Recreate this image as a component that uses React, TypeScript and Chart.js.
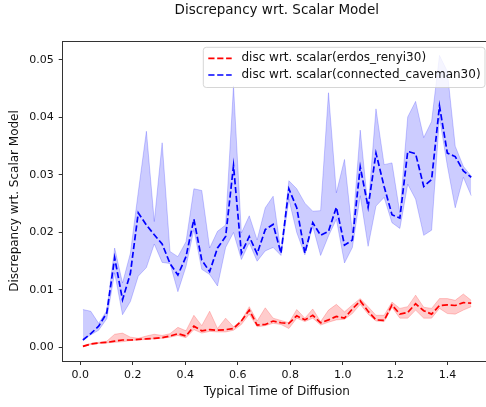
import React, { useEffect, useRef } from "react";
import { Chart, registerables } from "chart.js";

Chart.register(...registerables);

const titleText = "Discrepancy wrt. Scalar Model";
const xAxisLabel = "Typical Time of Diffusion";
const yAxisLabel = "Discrepancy wrt. Scalar Model";
const redLabel = "disc wrt. scalar(erdos_renyi30)";
const blueLabel = "disc wrt. scalar(connected_caveman30)";

const xTicks = [0, 0.2, 0.4, 0.6, 0.8, 1.0, 1.2, 1.4];
const yTicks = [0, 0.01, 0.02, 0.03, 0.04, 0.05];

const xValues = [
  0.010, 0.040, 0.070, 0.101, 0.131, 0.161, 0.191, 0.221, 0.252, 0.282,
  0.312, 0.342, 0.372, 0.403, 0.433, 0.463, 0.493, 0.523, 0.554, 0.584,
  0.614, 0.644, 0.674, 0.705, 0.735, 0.765, 0.795, 0.825, 0.856, 0.886,
  0.916, 0.946, 0.976, 1.007, 1.037, 1.067, 1.097, 1.127, 1.158, 1.188,
  1.218, 1.248, 1.278, 1.309, 1.339, 1.369, 1.399, 1.429, 1.460, 1.490,
];

const redMean = [
  0.0002, 0.0006, 0.0008, 0.0009, 0.0011, 0.0013, 0.0013, 0.0014, 0.0015, 0.0016,
  0.0017, 0.0020, 0.0024, 0.0020, 0.0037, 0.0029, 0.0031, 0.0030, 0.0031, 0.0033,
  0.0046, 0.0065, 0.0039, 0.0040, 0.0046, 0.0043, 0.0042, 0.0055, 0.0048, 0.0056,
  0.0043, 0.0048, 0.0054, 0.0051, 0.0067, 0.0081, 0.0063, 0.0048, 0.0047, 0.0074,
  0.0058, 0.0061, 0.0076, 0.0064, 0.0058, 0.0073, 0.0074, 0.0073, 0.0078, 0.0077,
];
const redUpper = [
  0.0003, 0.0007, 0.0009, 0.0011, 0.0023, 0.0025, 0.0018, 0.0016, 0.0020, 0.0023,
  0.0021, 0.0024, 0.0035, 0.0029, 0.0056, 0.0038, 0.0063, 0.0033, 0.0051, 0.0036,
  0.0047, 0.0071, 0.0046, 0.0069, 0.0051, 0.0047, 0.0043, 0.0066, 0.0051, 0.0067,
  0.0045, 0.0065, 0.0075, 0.0062, 0.0074, 0.0085, 0.0071, 0.0056, 0.0056, 0.0079,
  0.0068, 0.0071, 0.0091, 0.0070, 0.0068, 0.0085, 0.0085, 0.0082, 0.0093, 0.0082,
];
const redLower = [
  0.0001, 0.0005, 0.0007, 0.0008, 0.0009, 0.0010, 0.0012, 0.0013, 0.0014, 0.0015,
  0.0016, 0.0018, 0.0021, 0.0017, 0.0031, 0.0025, 0.0028, 0.0027, 0.0027, 0.0030,
  0.0040, 0.0058, 0.0036, 0.0038, 0.0042, 0.0040, 0.0033, 0.0051, 0.0045, 0.0051,
  0.0039, 0.0044, 0.0048, 0.0049, 0.0059, 0.0075, 0.0058, 0.0046, 0.0045, 0.0070,
  0.0051, 0.0051, 0.0065, 0.0051, 0.0051, 0.0068, 0.0059, 0.0058, 0.0065, 0.0071,
];

const blueMean = [
  0.0013, 0.0024, 0.0037, 0.0060, 0.0156, 0.0083, 0.0129, 0.0234, 0.0213, 0.0196,
  0.0180, 0.0146, 0.0126, 0.0158, 0.0223, 0.0152, 0.0132, 0.0173, 0.0193, 0.0316,
  0.0164, 0.0193, 0.0163, 0.0205, 0.0214, 0.0164, 0.0276, 0.0243, 0.0164, 0.0217,
  0.0195, 0.0202, 0.0244, 0.0178, 0.0187, 0.0314, 0.0244, 0.0338, 0.0280, 0.0231,
  0.0225, 0.0341, 0.0337, 0.0280, 0.0292, 0.0420, 0.0338, 0.0332, 0.0307, 0.0296,
];
const blueUpper = [
  0.0066, 0.0063, 0.0042, 0.0064, 0.0173, 0.0112, 0.0164, 0.0270, 0.0376, 0.0219,
  0.0356, 0.0167, 0.0158, 0.0184, 0.0276, 0.0273, 0.0173, 0.0202, 0.0213, 0.0455,
  0.0199, 0.0229, 0.0187, 0.0243, 0.0263, 0.0165, 0.0290, 0.0276, 0.0251, 0.0237,
  0.0238, 0.0443, 0.0269, 0.0327, 0.0199, 0.0378, 0.0242, 0.0415, 0.0318, 0.0321,
  0.0234, 0.0401, 0.0428, 0.0365, 0.0393, 0.0508, 0.0480, 0.0350, 0.0315, 0.0298,
];
const blueLower = [
  0.0013, 0.0022, 0.0030, 0.0050, 0.0130, 0.0057, 0.0080, 0.0124, 0.0139, 0.0180,
  0.0148, 0.0146, 0.0097, 0.0141, 0.0205, 0.0136, 0.0127, 0.0107, 0.0174, 0.0200,
  0.0153, 0.0182, 0.0150, 0.0168, 0.0174, 0.0160, 0.0258, 0.0200, 0.0161, 0.0211,
  0.0160, 0.0194, 0.0223, 0.0147, 0.0174, 0.0264, 0.0176, 0.0246, 0.0261, 0.0217,
  0.0207, 0.0284, 0.0258, 0.0195, 0.0204, 0.0400, 0.0316, 0.0243, 0.0296, 0.0264,
];

const FONT = "'DejaVu Sans', sans-serif";
const TEXT = "#111";
const SPINE = "#333";
const DASH = [6.2, 2.7];
const TICK_SIZE = 11;
const LABEL_SIZE = 12;
const TITLE_SIZE = 13.5;

function pts(ys: number[]) {
  return ys.map((y, i) => ({ x: xValues[i], y }));
}

export default function App() {
  const ref = useRef<HTMLCanvasElement>(null);

  useEffect(() => {
    const canvas = ref.current;
    if (!canvas) return;

    const framePlugin = {
      id: "frameAndLegend",
      afterDraw(chart: any) {
        const { ctx, chartArea: a } = chart;
        ctx.save();
        // spines
        ctx.strokeStyle = SPINE;
        ctx.lineWidth = 1;
        const l = Math.floor(a.left) + 0.5;
        const t = Math.floor(a.top) + 0.5;
        const r = Math.floor(a.right) + 0.5;
        const b = Math.floor(a.bottom) + 0.5;
        ctx.strokeRect(l, t, r - l, b - t);

        // title
        ctx.fillStyle = TEXT;
        ctx.font = `${TITLE_SIZE}px ${FONT}`;
        ctx.textAlign = "center";
        ctx.textBaseline = "alphabetic";
        ctx.fillText(titleText, (a.left + a.right) / 2, 13.5);

        // legend
        const bw = 281.7;
        const bh = 40.2;
        const bx = a.right - 5.9 - bw;
        const by = a.top + 6.3;
        const rad = 3;
        ctx.beginPath();
        ctx.moveTo(bx + rad, by);
        ctx.lineTo(bx + bw - rad, by);
        ctx.arcTo(bx + bw, by, bx + bw, by + rad, rad);
        ctx.lineTo(bx + bw, by + bh - rad);
        ctx.arcTo(bx + bw, by + bh, bx + bw - rad, by + bh, rad);
        ctx.lineTo(bx + rad, by + bh);
        ctx.arcTo(bx, by + bh, bx, by + bh - rad, rad);
        ctx.lineTo(bx, by + rad);
        ctx.arcTo(bx, by, bx + rad, by, rad);
        ctx.closePath();
        ctx.fillStyle = "rgba(255,255,255,0.8)";
        ctx.fill();
        ctx.strokeStyle = "rgba(204,204,204,0.8)";
        ctx.lineWidth = 1;
        ctx.stroke();

        const items = [
          { label: redLabel, color: "#ff0000", y: by + 11 },
          { label: blueLabel, color: "#0000ff", y: by + 27.7 },
        ];
        ctx.font = `${LABEL_SIZE}px ${FONT}`;
        ctx.textAlign = "left";
        ctx.textBaseline = "middle";
        for (const it of items) {
          ctx.beginPath();
          ctx.setLineDash(DASH);
          ctx.strokeStyle = it.color;
          ctx.lineWidth = 1.7;
          ctx.moveTo(bx + 5, it.y);
          ctx.lineTo(bx + 28.4, it.y);
          ctx.stroke();
          ctx.setLineDash([]);
          ctx.fillStyle = TEXT;
          ctx.fillText(it.label, bx + 38.2, it.y);
        }
        ctx.restore();
      },
    };

    const chart = new Chart(canvas, {
      type: "line",
      data: {
        datasets: [
          {
            label: redLabel,
            data: pts(redMean),
            borderColor: "#ff0000",
            borderWidth: 1.7,
            borderDash: DASH,
            pointRadius: 0,
            fill: false,
            tension: 0,
          },
          {
            label: blueLabel,
            data: pts(blueMean),
            borderColor: "#0000ff",
            borderWidth: 1.7,
            borderDash: DASH,
            pointRadius: 0,
            fill: false,
            tension: 0,
          },
          {
            label: "red lower",
            data: pts(redLower),
            borderColor: "rgba(255,0,0,0.2)",
            borderWidth: 1,
            pointRadius: 0,
            fill: false,
          },
          {
            label: "red upper",
            data: pts(redUpper),
            borderColor: "rgba(255,0,0,0.2)",
            backgroundColor: "rgba(255,0,0,0.2)",
            borderWidth: 1,
            pointRadius: 0,
            fill: "-1",
          },
          {
            label: "blue lower",
            data: pts(blueLower),
            borderColor: "rgba(0,0,255,0.2)",
            borderWidth: 1,
            pointRadius: 0,
            fill: false,
          },
          {
            label: "blue upper",
            data: pts(blueUpper),
            borderColor: "rgba(0,0,255,0.2)",
            backgroundColor: "rgba(0,0,255,0.2)",
            borderWidth: 1,
            pointRadius: 0,
            fill: "-1",
          },
        ],
      },
      options: {
        animation: false,
        responsive: false,
        devicePixelRatio: 1,
        layout: { padding: { top: 41, right: 9.1, left: 0, bottom: 0 } },
        plugins: {
          legend: { display: false },
          title: { display: false },
          tooltip: { enabled: false },
        },
        scales: {
          x: {
            type: "linear",
            min: -0.067,
            max: 1.565,
            afterBuildTicks: (s: any) => {
              s.ticks = xTicks.map((v) => ({ value: v }));
            },
            afterFit: (s: any) => {
              s.height = 46;
            },
            ticks: {
              callback: (v: any) => Number(v).toFixed(1),
              font: { family: FONT, size: TICK_SIZE },
              color: TEXT,
              padding: 4,
              maxRotation: 0,
              autoSkip: false,
            },
            grid: {
              drawOnChartArea: false,
              drawTicks: true,
              tickLength: 4,
              color: SPINE,
            },
            border: { display: false },
            title: {
              display: true,
              text: xAxisLabel,
              font: { family: FONT, size: LABEL_SIZE },
              color: TEXT,
              padding: { top: 0, bottom: 7.5 },
            },
          },
          y: {
            type: "linear",
            min: -0.00235,
            max: 0.0533,
            afterBuildTicks: (s: any) => {
              s.ticks = yTicks.map((v) => ({ value: v }));
            },
            afterFit: (s: any) => {
              s.width = 62.7;
            },
            ticks: {
              callback: (v: any) => Number(v).toFixed(2),
              font: { family: FONT, size: TICK_SIZE },
              color: TEXT,
              padding: 5,
              autoSkip: false,
            },
            grid: {
              drawOnChartArea: false,
              drawTicks: true,
              tickLength: 4,
              color: SPINE,
            },
            border: { display: false },
            title: {
              display: true,
              text: yAxisLabel,
              font: { family: FONT, size: LABEL_SIZE },
              color: TEXT,
              padding: { top: 7.4, bottom: 0 },
            },
          },
        },
      },
      plugins: [framePlugin],
    } as any);

    return () => {
      chart.destroy();
    };
  }, []);

  return (
    <div
      style={{
        position: "absolute",
        left: 0,
        top: 0,
        width: 486,
        height: 407,
        overflow: "hidden",
        background: "#fff",
      }}
    >
      <canvas
        ref={ref}
        width={500}
        height={407}
        style={{ width: 500, height: 407, display: "block" }}
      />
    </div>
  );
}
